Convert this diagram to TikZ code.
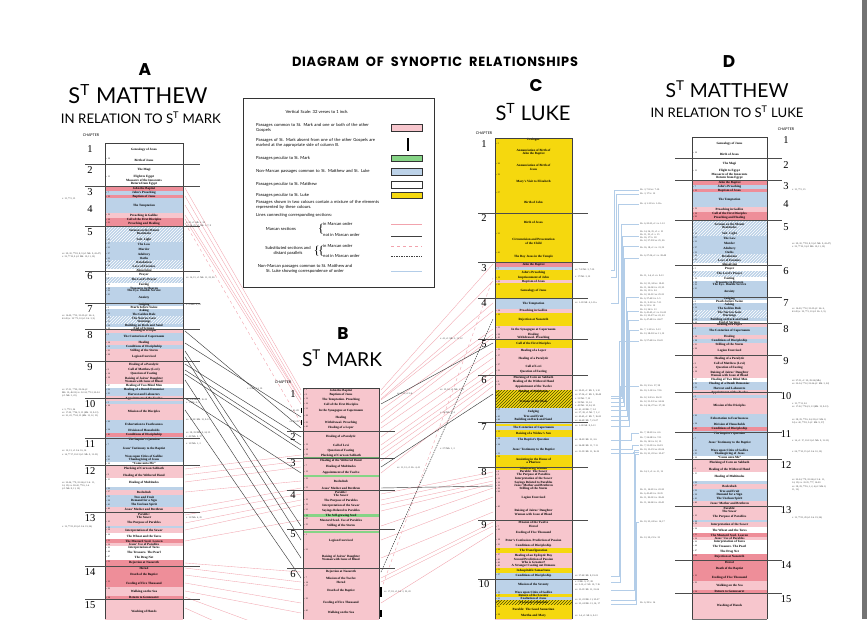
\documentclass[tikz,border=0pt]{standalone}
\usepackage{fontspec}
\setmainfont{Liberation Serif}
\newfontfamily\hdfont{Lato}
\newfontfamily\ttlfont[LetterSpace=6]{Poppins}
\usetikzlibrary{patterns}
\definecolor{pk}{HTML}{F7C6CD}
\definecolor{rd}{HTML}{EE8E99}
\definecolor{bl}{HTML}{BCD2E8}
\definecolor{yl}{HTML}{F5D80E}
\definecolor{gn}{HTML}{86D486}
\definecolor{pkl}{HTML}{F2A3AD}
\definecolor{bll}{HTML}{B3CDE8}
\tikzset{
 fpk/.style={fill=pk}, frd/.style={fill=rd}, fbl/.style={fill=bl},
 fwh/.style={fill=white}, fyl/.style={fill=yl}, fgn/.style={fill=gn},
 fhb/.style={fill=bl, postaction={pattern=north east lines, pattern color=white}},
 fhy/.style={fill=yl, postaction={pattern=north east lines, pattern color=olive!60!black}},
 segline/.style={draw=black!55, line width=0.3pt},
 colframe/.style={draw=black!75, line width=0.7pt},
 seglab/.style={font=\fontsize{3.2}{3.4}\selectfont\bfseries, align=center, inner sep=0pt, text=black},
 vlab/.style={font=\fontsize{2.2}{2.4}\selectfont, anchor=north west, inner sep=0.4pt},
 chapline/.style={draw=black!70, line width=0.45pt},
 chapnum/.style={font=\fontsize{10.5}{11}\selectfont},
 chaplab/.style={font=\hdfont\fontsize{3.6}{4}\selectfont},
 note/.style={font=\fontsize{2.4}{2.6}\selectfont, inner sep=0pt, anchor=west, text=black!80},
 pinkln/.style={draw=pkl, line width=0.35pt},
 pinkdash/.style={draw=pkl, line width=0.4pt, dashed},
 blackln/.style={draw=black!75, line width=0.45pt},
 blackdash/.style={draw=black!75, line width=0.5pt, dash pattern=on 1.5pt off 1pt},
 blueln/.style={draw=bll, line width=0.3pt},
 legt/.style={font=\hdfont\fontsize{4.2}{5}\selectfont, inner sep=0pt, align=left, anchor=west},
 swatch/.style={draw=black!80, line width=0.5pt},
 headbig/.style={font=\ttlfont\bfseries\fontsize{17}{17}\selectfont, inner sep=0pt},
}
\newcommand\colsegs[3]{%
  \foreach \ya/\yb/\st/\vv/\lab in #3 {%
    \path[\st] (#1,\ya) rectangle (#2,\yb);
    \draw[segline] (#1,\yb) -- (#2,\yb);
    \node[seglab] at ({(#1+#2)/2},{(\ya+\yb)/2}) {\lab};
    \node[vlab] at (#1,\ya) {\vv};
  }%
}
\def\Alist{143/157/fwh/{}/{Genealogy of Jesus},
157/164/fwh/{v. 18}/{Birth of Jesus},
164/175/fwh/{}/{The Magi},
175/186/fwh/{v. 13}/{Flight to Egypt\\Massacre of the Innocents\\Return from Egypt},
186/191/frd/{}/{John the Baptist},
191/195/fbl/{v. 7}/{John's Preaching},
195/198/frd/{v. 13}/{Baptism of Jesus},
198/213/fbl/{}/{The Temptation},
213/218/fpk/{v. 12}/{Preaching in Galilee},
218/221/frd/{v. 18}/{Call of the First Disciples},
221/226/frd/{v. 23}/{Preaching and Healing},
226/238/fhb/{}/{Sermon on the Mount\\Beatitudes},
238/242/fhb/{v. 13}/{Salt. Light},
242/246/fbl/{v. 17}/{The Law},
246/252/fbl/{v. 21}/{Murder},
252/257/fbl/{v. 27}/{Adultery},
257/260/fbl/{v. 33}/{Oaths},
260/264/fhb/{v. 38}/{Retaliation},
264/269/fhb/{v. 43}/{Love of Enemies},
269/273/fwh/{}/{Almsgiving},
273/277/fwh/{v. 5}/{Prayer},
277/283/fhb/{v. 9}/{The Lord's Prayer},
283/287/fwh/{v. 16}/{Fasting},
287/289/fbl/{v. 19}/{Treasures in Heaven},
289/293/fbl/{v. 22}/{The Eye. Double Service},
293/303/fbl/{v. 25}/{Anxiety},
303/306/fbl/{}/{Judging},
306/309/fwh/{v. 6}/{Pearls before Swine},
309/312/fbl/{v. 7}/{Asking},
312/316/fbl/{v. 12}/{The Golden Rule},
316/320/fhb/{v. 13}/{The Narrow Gate},
320/324/fhb/{v. 15}/{Warnings},
324/327/fbl/{v. 24}/{Building on Rock and Sand},
327/329/fwh/{v. 28}/{End of Sermon},
329/333/fpk/{}/{Healing of a Leper},
333/341/fbl/{v. 5}/{The Centurion of Capernaum},
341/345/fpk/{v. 14}/{Healing},
345/349/fbl/{v. 18}/{Conditions of Discipleship},
349/353/fpk/{v. 23}/{Stilling of the Storm},
353/361/fpk/{v. 28}/{Legion Exorcised},
361/368/fpk/{}/{Healing of a Paralytic},
368/372/fpk/{v. 9}/{Call of Matthew (Levi)},
372/376/fpk/{v. 14}/{Question of Fasting},
376/384/fpk/{v. 18}/{Raising of Jairus' Daughter\\Woman with Issue of Blood},
384/388/fwh/{v. 27}/{Healing of Two Blind Men},
388/392/fbl/{v. 32}/{Healing of a Dumb Demoniac},
392/396/fbl/{v. 35}/{Harvest and Labourers},
396/401/fpk/{}/{Appointment of the Twelve},
401/404/fbl/{v. 5}/{},
404/420/fpk/{v. 16}/{Mission of the Disciples},
420/428/fbl/{v. 26}/{Exhortation to Fearlessness},
428/433/fbl/{v. 34}/{Division of Households},
433/437/frd/{v. 40}/{Conditions of Discipleship},
437/443/fbl/{}/{The Baptist's Question},
443/455/fbl/{v. 7}/{Jesus' Testimony to the Baptist},
455/458/fbl/{v. 20}/{Woes upon Cities of Galilee},
458/462/fbl/{v. 25}/{Thanksgiving of Jesus},
462/465/fwh/{v. 28}/{``Come unto Me''},
465/473/fpk/{}/{Plucking of Corn on Sabbath},
473/478/fpk/{v. 9}/{Healing of the Withered Hand},
478/487/fwh/{v. 15}/{Healing of Multitudes},
487/490/fbl/{v. 22}/{},
490/495/fpk/{v. 27}/{Beelzebub},
495/499/fbl/{v. 33}/{Tree and Fruit},
499/503/fbl/{v. 38}/{Demand for a Sign},
503/507/fbl/{v. 43}/{The Unclean Spirit},
507/512/fpk/{v. 46}/{Jesus' Mother and Brethren},
512/520/fpk/{}/{Parable:\\The Sower},
520/526/fpk/{v. 10}/{The Purpose of Parables},
526/528/fbl/{v. 16}/{},
528/533/fpk/{v. 18}/{Interpretation of the Sower},
533/539/fwh/{v. 24}/{The Wheat and the Tares},
539/543/frd/{v. 31}/{The Mustard Seed. Leaven},
543/546/fpk/{v. 34}/{Jesus' Use of Parables},
546/550/fwh/{v. 36}/{Interpretation of Tares},
550/555/fwh/{v. 44}/{The Treasure. The Pearl},
555/560/fwh/{v. 47}/{The Drag Net},
560/566/frd/{v. 53}/{Rejection at Nazareth},
566/570/frd/{}/{Herod},
570/580/frd/{}/{Death of the Baptist},
580/587/frd/{v. 13}/{Feeding of Five Thousand},
587/596/fpk/{v. 22}/{Walking on the Sea},
596/599/frd/{v. 34}/{Return to Gennesaret},
599/625/fpk/{}/{Washing of Hands}}
\def\Blist{388/393/fpk/{v. 1}/{John the Baptist},
393/397/fpk/{v. 9}/{Baptism of Jesus},
397/402/fpk/{v. 12}/{The Temptation. Preaching},
402/407/fpk/{v. 16}/{Call of the First Disciples},
407/414/fpk/{v. 21}/{In the Synagogue at Capernaum},
414/421/fpk/{v. 29}/{Healing},
421/425/fpk/{v. 35}/{Withdrawal. Preaching},
425/431/fpk/{v. 40}/{Healing of a Leper},
431/443/fpk/{}/{Healing of a Paralytic},
443/448/fpk/{v. 13}/{Call of Levi},
448/453/fpk/{v. 18}/{Question of Fasting},
453/458/fpk/{v. 23}/{Plucking of Corn on Sabbath},
458/464/fpk/{}/{Healing of the Withered Hand},
464/470/fpk/{v. 7}/{Healing of Multitudes},
470/475/fpk/{v. 13}/{Appointment of the Twelve},
475/477/fgn/{}/{},
477/486/fpk/{v. 22}/{Beelzebub},
486/490/fpk/{v. 31}/{Jesus' Mother and Brethren},
490/498/fpk/{}/{Parable:\\The Sower},
498/503/fpk/{v. 10}/{The Purpose of Parables},
503/508/fpk/{v. 13}/{Interpretation of the Sower},
508/514/fpk/{v. 21}/{Sayings Related to Parables},
514/517/fgn/{v. 26}/{The Self-growing Seed},
517/523/fpk/{v. 30}/{Mustard Seed. Use of Parables},
523/529/fpk/{v. 35}/{Stilling of the Storm},
529/531/fpk/{}/{},
531/533/fgn/{}/{},
533/548/fpk/{v. 1}/{Legion Exorcised},
548/568/fpk/{v. 21}/{Raising of Jairus' Daughter\\Woman with Issue of Blood},
568/576/fpk/{}/{Rejection at Nazareth},
576/581/fpk/{v. 7}/{Mission of the Twelve},
581/584/fpk/{v. 14}/{Herod},
584/597/fpk/{v. 17}/{Death of the Baptist},
597/609/fpk/{v. 30}/{Feeding of Five Thousand},
609/617/fpk/{v. 45}/{Walking on the Sea},
617/625/fpk/{}/{}}
\def\Clist{138/142/fyl/{}/{Prologue},
142/162/fyl/{v. 5}/{Annunciation of Birth of\\John the Baptist},
162/173/fyl/{v. 26}/{Annunciation of Birth of\\Jesus},
173/191/fyl/{v. 39}/{Mary's Visit to Elizabeth},
191/213/fyl/{v. 57}/{Birth of John},
213/232/fyl/{}/{Birth of Jesus},
232/251/fyl/{v. 21}/{Circumcision and Presentation\\of the Child},
251/262/fyl/{v. 41}/{The Boy Jesus in the Temple},
262/267/frd/{}/{John the Baptist},
267/270/fbl/{v. 7}/{},
270/276/fyl/{}/{John's Preaching},
276/280/fyl/{v. 18}/{Imprisonment of John},
280/283/fpk/{v. 21}/{Baptism of Jesus},
283/298/fyl/{v. 23}/{Genealogy of Jesus},
298/309/fbl/{}/{The Temptation},
309/313/fpk/{v. 14}/{Preaching in Galilee},
313/326/fyl/{v. 16}/{Rejection at Nazareth},
326/333/fpk/{v. 31}/{In the Synagogue at Capernaum},
333/336/fpk/{v. 38}/{Healing},
336/339/fpk/{v. 42}/{Withdrawal. Preaching},
339/348/fyl/{}/{Call of the First Disciples},
348/354/fpk/{v. 12}/{Healing of a Leper},
354/363/fpk/{v. 17}/{Healing of a Paralytic},
363/369/fpk/{v. 27}/{Call of Levi},
369/375/fpk/{v. 33}/{Question of Fasting},
375/380/fpk/{}/{Plucking of Corn on Sabbath},
380/383/fpk/{v. 6}/{Healing of the Withered Hand},
383/390/fpk/{v. 12}/{Appointment of the Twelve},
390/394/fhy/{v. 17}/{Healing of Multitudes},
394/408/fhy/{v. 20}/{Sermon on the Plain},
408/415/fbl/{v. 37}/{Judging},
415/418/fbl/{v. 43}/{Tree and Fruit},
418/422/fbl/{v. 46}/{Building on Rock and Sand},
422/424/fbl/{}/{},
424/426/fyl/{}/{},
426/430/fbl/{}/{The Centurion of Capernaum},
430/437/fyl/{v. 11}/{Raising of a Widow's Son},
437/443/fbl/{v. 18}/{The Baptist's Question},
443/447/fbl/{v. 24}/{},
447/452/fbl/{}/{Jesus' Testimony to the Baptist},
452/455/fbl/{v. 31}/{},
455/467/fyl/{v. 36}/{Anointing in the House of\\a Pharisee},
467/470/fyl/{}/{Ministering Women},
470/473/fpk/{v. 4}/{Parable: The Sower},
473/477/fpk/{v. 9}/{The Purpose of Parables},
477/481/fpk/{v. 11}/{Interpretation of the Sower},
481/484/fpk/{v. 16}/{Sayings Related to Parables},
484/487/fpk/{v. 19}/{Jesus' Mother and Brethren},
487/490/fpk/{v. 22}/{Stilling of the Storm},
490/505/fpk/{v. 26}/{Legion Exorcised},
505/520/fpk/{v. 40}/{Raising of Jairus' Daughter\\Woman with Issue of Blood},
520/525/fpk/{}/{Mission of the Twelve},
525/528/fpk/{v. 7}/{Herod},
528/538/fpk/{v. 10}/{Feeding of Five Thousand},
538/543/fpk/{v. 18}/{Peter's Confession. Prediction of Passion},
543/548/fpk/{v. 23}/{Conditions of Discipleship},
548/553/fyl/{v. 28}/{The Transfiguration},
553/558/fpk/{v. 37}/{Healing of an Epileptic Boy},
558/561/fpk/{v. 43}/{Second Prediction of Passion},
561/564/fpk/{v. 46}/{Who is Greatest?},
564/568/fpk/{v. 49}/{A Stranger Casting out Demons},
568/573/fyl/{v. 51}/{Inhospitable Samaritans},
573/579/fbl/{v. 57}/{Conditions of Discipleship},
579/591/fbl/{}/{Mission of the Seventy},
591/594/fbl/{v. 13}/{Woes upon Cities of Galilee},
594/597/fyl/{v. 17}/{Return of the Seventy},
597/600/fbl/{v. 21}/{Exaltation of Jesus},
600/605/fhy/{v. 25}/{A Lawyer's Question},
605/613/fyl/{v. 29}/{Parable: The Good Samaritan},
613/619/fyl/{v. 38}/{Martha and Mary},
619/625/fpk/{}/{}}
\begin{document}
\begin{tikzpicture}[x=1pt,y=-1pt]
\useasboundingbox (0,0) rectangle (867,619);
\fill[white] (0,0) rectangle (867,619);
\fill[black!55] (862,0) rectangle (867,619);

% ---------- title ----------
\node[inner sep=0pt] (title) at (435,62) {\resizebox{286pt}{9.5pt}{\ttlfont\bfseries DIAGRAM\ \ OF\ \ SYNOPTIC\ \ RELATIONSHIPS}};

% ---------- headers ----------
\node[headbig] (hA) at (145,70) {A};
\node[inner sep=0pt] (tA) at (138,94) {\resizebox{139pt}{!}{\hdfont S\textsuperscript{T} MATTHEW}};
\node[inner sep=0pt] (sA) at (141,117.5) {\resizebox{160pt}{!}{\hdfont IN RELATION TO S\textsuperscript{T} MARK}};
\node[headbig] (hB) at (343,334) {B};
\node[inner sep=0pt] (tB) at (342,358.5) {\resizebox{80pt}{!}{\hdfont S\textsuperscript{T} MARK}};
\node[headbig] (hC) at (536,86) {C};
\node[inner sep=0pt] (tC) at (533,112) {\resizebox{75pt}{!}{\hdfont S\textsuperscript{T} LUKE}};
\node[headbig] (hD) at (729,62) {D};
\node[inner sep=0pt] (tD) at (727,89.5) {\resizebox{123pt}{!}{\hdfont S\textsuperscript{T} MATTHEW}};
\node[inner sep=0pt] (sD) at (727,112) {\resizebox{153pt}{!}{\hdfont IN RELATION TO S\textsuperscript{T} LUKE}};

% ---------- connectors A -> B ----------
\foreach \a/\b in {188/390,196/395,205/399,215/400,219/404,469/455,475/461,482/467,492/481,509/488,515/494,523/500,530/505,541/520,563/572,568/582,575/590,583/603,591/613,597/640,608/660}
  \draw[pinkln] (185,\a) -- (301,\b);
\draw[pinkdash] (185,223) -- (301,423);
\foreach \a/\b in {331/428,343/417,351/526,357/540,364/437,370/445,374/450,380/558,398/473,410/578}
  \draw[blackln] (185,\a) -- (301,\b);
% ---------- connectors B -> C ----------
\foreach \a/\b in {390/264,395/281,399/303,400/311,410/329,417/334,423/337,428/351,437/358,445/366,450/372,455/377,461/381,473/386,494/472,500/476,505/481,511/484,526/488,540/497,558/512,578/522,582/526,603/533}
  \draw[pinkln] (381,\a) -- (493,\b);
\draw[pinkdash] (381,590) -- (493,278);
\foreach \a/\b in {404/343,467/394,488/486}
  \draw[blackln] (381,\a) -- (493,\b);
\draw[blackdash] (381,572) -- (493,319);
% ---------- connectors C -> D ----------
\foreach \a/\b/\v in {270/190/614,277/194/616,303/204/618,396/224/621,398/236/622,402/246/623,406/258/624,410/297/626,416/311/627,420/320/628,426/330/629,440/433/631,449/445/632,453/452/633,576/341/619,582/386/620,590/450/634,600/454/635,604/522/636}
  \draw[blueln] (611,\a) -- (\v,\a) -- (\v,\b) -- (639,\b);

% ---------- columns ----------
\colsegs{105}{183}{\Alist}
\draw[colframe] (105,619) -- (105,143) -- (183,143) -- (183,619);
\node[inner sep=0pt, minimum width=78pt, minimum height=476pt, anchor=north west] (colA) at (105,143) {};
\begin{scope}[yshift=6pt]
\colsegs{692}{767}{\Alist}
\draw[colframe] (692,625) -- (692,143) -- (767,143) -- (767,625);
\end{scope}
\node[inner sep=0pt, minimum width=75pt, minimum height=482pt, anchor=north west] (colD) at (692,137) {};
\colsegs{303}{379}{\Blist}
\draw[draw=gn!80!black, line width=0.8pt] (303,388.4) -- (379,388.4);
\draw[draw=gn!80!black, line width=0.8pt] (303,457.5) -- (379,457.5);
\draw[colframe] (303,619) -- (303,388) -- (379,388) -- (379,619);
\node[inner sep=0pt, minimum width=76pt, minimum height=231pt, anchor=north west] (colB) at (303,388) {};
\colsegs{495}{572}{\Clist}
\draw[colframe] (495,619) -- (495,138) -- (572,138) -- (572,619);
\node[inner sep=0pt, minimum width=77pt, minimum height=481pt, anchor=north west] (colC) at (495,138) {};

% black bars beside column B
\foreach \a/\b/\x in {408/413/301.5,420/425/301.5,587/597/381,610/617/381}
  \draw[black, line width=1.6pt] (\x,\a) -- (\x,\b);

% ---------- chapter lines and numbers ----------
\node[chaplab] (chA) at (91,135) {CHAPTER};
\foreach \y in {164,186,226,271,303,329,361,398,438,465,512,566,599}
  \draw[chapline] (85,\y) -- (200,\y);
\foreach \n/\y in {1/149,2/170,3/192,4/209,5/232,6/276,7/309,8/335,9/367,10/404,11/444,12/471,13/518,14/572,15/605}
  \node[chapnum] at (90,\y) {\n};
\node[chaplab] (chD) at (786,129) {CHAPTER};
\foreach \y in {158,180,220,265,297,323,355,392,432,459,506,560,593}
  \draw[chapline] (675,\y) -- (782,\y);
\foreach \n/\y in {1/140,2/165,3/186,4/204,5/227,6/271,7/303,8/329,9/361,10/396,11/434,12/465,13/510,14/565,15/599}
  \node[chapnum] at (786,\y) {\n};
\node[chaplab] (chB) at (283,382) {CHAPTER};
\foreach \y in {431,458,490,529,568}
  \draw[chapline] (287,\y) -- (395,\y);
\foreach \n/\y in {1/394,2/437,3/463,4/495,5/534,6/574}
  \node[chapnum] at (293,\y) {\n};
\node[chaplab] (chC) at (484,133) {CHAPTER};
\foreach \y in {213,262,298,339,375,422,467,520,579}
  \draw[chapline] (478,\y) -- (588,\y);
\foreach \n/\y in {1/144,2/218,3/268,4/303,5/344,6/380,7/427,8/472,9/525,10/584}
  \node[chapnum] at (484,\y) {\n};

% ---------- annotations ----------
\foreach \y/\t in {254/{vv. 29, 30, **18, 8, 9 (cf. Mk. 9, 43-47)},257/{v. 32, **19, 9 (cf. Mk. 10, 11, 12)},316/{vv. 16-20, **12, 33-35 (cf. Lk. 6,},319/{43-45) v. 19 **3, 10 (cf. Lk. 3, 9)},390/{vv. 27-31, **20, 29-34 (cf.},393/{Mk. 10, 46-52) vv. 32-34, **12, 22-24},396/{(cf. Mk. 3, 22)},410/{v. 5, **15, 24},413/{vv. 17-22, **24, 9, 13 (Mk. 13, 9-13)},416/{vv. 21, 22, **24, 13 (Mk. 13, 12, 13)},451/{vv. 12, 13, cf. Lk. 16, 16},455/{v. 14, **17, 10-13 (cf. Mk. 9, 11-13)},483/{vv. 22-24, **9, 32-34 (cf. Lk. 11,},486/{14, 15) vv. 38-42, **16, 1-4},489/{(cf. Mk. 8, 11, 12)},527/{v. 12, **25, 29 (cf. Lk. 19, 26)},199/{v. 15, **2, 15}}
  \node[note] at (62,\y) {\t};
\foreach \y/\t in {223/{v. 23, cf. Mk. 1, 39},226/{vv. 24, 25, cf. Mk. 3, 7, 8},278/{vv. 14, 15, cf. Mk. 11, 25, 26},305/{v. 2=Mk. 4, 24},400/{vv. 2-4=Mk. 3, 16-19},403/{v. 1=Mk. 6, 7},420/{vv. 17-22=Mk. 13, 9-13},433/{vv. 38, 39=Mk. 8, 34, 35},437/{v. 40=Mk. 9, 37},444/{v. 10=Mk. 1, 2},518/{v. 12=Mk. 4, 25}}
  \node[note] at (186,\y) {\t};
\foreach \y/\t in {190/{Lk. 3, 7-9=vv. 7-10},194/{Lk. 3, 17=v. 12},204/{Lk. 4, 1-13=vv. 1-11a},224/{Lk. 6, 20-23, cf. vv. 1-12},232/{Lk. 14, 34, 35, cf. v. 13},235/{Lk. 11, 33, cf. v. 15},238/{Lk. 16, 17=v. 18},241/{Lk. 12, 57-59=vv. 25, 26},248/{Lk. 16, 18, cf. vv. 31, 32},256/{Lk. 6, 27-36, cf. vv. 38-48},276/{Lk. 11, 1-4, cf. vv. 9-13},284/{Lk. 12, 33, 34=vv. 19-21},288/{Lk. 11, 34-36=vv. 22, 23},291/{Lk. 16, 13=v. 24},295/{Lk. 12, 22-31=vv. 25-33},299/{Lk. 6, 37-42=vv. 1-5},303/{Lk. 11, 9-13=vv. 7-11},306/{Lk. 6, 31=v. 12},310/{Lk. 13, 24=v. 13},313/{Lk. 6, 43-45, cf. vv. 16-20},316/{Lk. 13, 25-27=vv. 22, 23},320/{Lk. 6, 47-49=vv. 24-27},330/{Lk. 7, 1-10=vv. 5-13},334/{Lk. 13, 28-30=vv. 11, 12},341/{Lk. 9, 57-60=vv. 19-22},386/{Lk. 10, 2=vv. 37, 38},391/{Lk. 10, 3-12=vv. 7-16},398/{Lk. 12, 2-9=vv. 26-33},402/{Lk. 12, 51-53=vv. 34-36},406/{Lk. 14, 26, 27=vv. 37, 38},433/{Lk. 7, 18-23=vv. 2-6},438/{Lk. 7, 24-28=vv. 7-11},442/{Lk. 16, 16=vv. 12, 13},446/{Lk. 7, 31-35=vv. 16-19},450/{Lk. 10, 13-15=vv. 20-24},454/{Lk. 10, 21, 22=vv. 25-27},472/{Lk. 14, 5, cf. vv. 11, 12},490/{Lk. 11, 14-23=vv. 22-30},494/{Lk. 6, 43-45=vv. 33-35},498/{Lk. 11, 29-32=vv. 38-42},503/{Lk. 11, 24-26=vv. 43-45},522/{Lk. 10, 23, 24=vv. 16, 17},538/{Lk. 13, 20, 21=v. 33},603/{Lk. 6, 39=v. 14}}
  \node[note] at (640,\y) {\t};
\foreach \y/\t in {190/{v. 15, **2, 15},244/{vv. 29, 30, **18, 8, 9 (cf. Mk. 9, 43-47)},247/{v. 32, **19, 9 (cf. Mk. 10, 11, 12)},309/{vv. 16-20, **12, 33-35 (cf. Lk. 6,},312/{43-45) v. 19, **3, 10 (cf. Lk. 3, 9)},381/{vv. 27-31, cf. 20, 29-34 (Mk.)},384/{vv. 32-34, **12, 22-24 (cf. Mk. 3, 22)},404/{v. 15, **11, 24},407/{vv. 17-22, **24, 9, 13 (Mk. 13, 9-13)},420/{vv. 38, 39, **16, 24, 25 (cf. Mk. 8,},423/{34) v. 40, **18, 5 (cf. Mk. 9, 37)},441/{v. 14, cf. 17, 10-13 (cf. Mk. 9, 11-13)},452/{v. 24, **10, 15 (cf. Lk. 10, 12)},480/{vv. 22-24, **9, 32-34 (cf. Lk. 11,},483/{14, 15) vv. 33-35, **7, 16-20},487/{vv. 38, 39, **16, 1, 2, 4 (cf. Mk. 8,},490/{11, 12)},518/{v. 12, **25, 29 (cf. Lk. 19, 26)}}
  \node[note] at (792,\y) {\t};
\foreach \y/\t in {270/{vv. 7-9=Mt. 3, 7-10},277/{v. 17=Mt. 3, 12},303/{vv. 1-13=Mt. 4, 1-11a},391/{vv. 20-23, cf. Mt. 5, 1-12},395/{vv. 27-36, cf. Mt. 5, 38-48},399/{v. 31=Mt. 7, 12},403/{v. 39=Mt. 15, 14},406/{v. 40=Mt. 10, 24, 25},410/{vv. 41, 42=Mt. 7, 3-5},413/{vv. 37, 38, cf. Mt. 7, 1, 2},417/{vv. 43-45, cf. Mt. 7, 16-20},421/{vv. 46-49=Mt. 7, 21-27},426/{vv. 1-10=Mt. 8, 5-13},440/{vv. 18-23=Mt. 11, 2-6},446/{vv. 24-28=Mt. 11, 7-11},452/{vv. 31-35=Mt. 11, 16-19},576/{vv. 57-62=Mt. 8, 19-22},582/{v. 2=Mt. 9, 37, 38},585/{vv. 3-12, cf. Mt. 10, 7-16},590/{vv. 13-15=Mt. 11, 21-24},600/{vv. 21, 22=Mt. 11, 25-27},604/{vv. 23, 24=Mt. 13, 16, 17},616/{vv. 1-4, cf. Mt. 6, 9-13}}
  \node[note] at (575,\y) {\t};
\node[note, anchor=east] at (299,411) {vv. 21-28};
\node[note, anchor=east] at (299,422) {vv. 35-39};
\node[note] at (247,389) {v. 2=Mt. 11, 10};
\node[note] at (384,592) {vv. 17, 18, cf. Lk. 3, 19, 20};
\node[note] at (397,468) {vv. 11, 12, cf. Lk. 4, 41};
\node[note] at (397,394) {vv. 2-13, cf. Lk.};
\node[note] at (440,339) {v. 41, cf. Mk. 3, 11, 12};
\node[note] at (440,390) {vv. 15, 16, cf. Mk. 1, 28};
\node[note] at (440,413) {v. 24=Mk. 6, 4};
\node[note] at (440,449) {v. 27=Mk. 1, 2};

% ---------- legend ----------
\draw[black!80, line width=0.6pt, fill=white] (243,98) rectangle (434,287);
\node[legt, anchor=center] (lg0) at (317,112) {Vertical Scale: 32 verses to 1 inch.};
\node[legt, text width=122pt] (lg1) at (256,127.5) {Passages common to St. Mark and one or both of the other Gospels};
\node[legt, text width=122pt] (lg2) at (256,143) {Passages of St. Mark absent from one of the other Gospels are marked at the appropriate side of column B.};
\node[legt] (lg3) at (256,158) {Passages peculiar to St. Mark};
\node[legt, text width=122pt] (lg4) at (256,171.5) {Non-Marcan passages common to St. Matthew and St. Luke};
\node[legt] (lg5) at (256,184.5) {Passages peculiar to St. Matthew};
\node[legt] (lg6) at (256,195) {Passages peculiar to St. Luke};
\node[legt, text width=125pt] (lg7) at (256,205) {Passages shown in two colours contain a mixture of the elements represented by these colours.};
\node[legt] (lg8) at (256,215) {Lines connecting corresponding sections:};
\draw[swatch, fill=pk] (391,124) rectangle (422,131);
\draw[black, line width=2pt] (408,138) -- (408,151);
\draw[swatch, fill=gn] (391,155) rectangle (422,161);
\draw[swatch, fill=bl] (391,168) rectangle (422,175);
\draw[swatch, fill=white] (391,181) rectangle (422,188);
\draw[swatch, fill=yl] (391,192) rectangle (422,198);
\node[legt, anchor=center] (lg9) at (281,229) {Marcan sections};
\node[inner sep=0pt, font=\fontsize{12}{12}\selectfont] at (321,229.5) {\{};
\node[legt] at (323,224) {in Marcan order};
\node[legt] at (323,234.5) {not in Marcan order};
\node[legt, anchor=center, align=center] (lg10) at (288,251) {Substituted sections and\\distant parallels};
\node[inner sep=0pt, font=\fontsize{12}{12}\selectfont] at (319,251) {\{\kern-1.5pt\{};
\node[legt] at (323,246) {in Marcan order};
\node[legt] at (323,256) {not in Marcan order};
\node[legt, anchor=center, align=center] (lg11) at (305,268.5) {Non-Marcan passages common to St. Matthew and\\St. Luke showing correspondence of order};
\draw[pinkln, line width=0.5pt] (391,224) -- (422,224);
\draw[blackln] (391,236) -- (422,236);
\draw[pinkdash] (391,246) -- (422,246);
\draw[blackdash] (391,256) -- (422,256);
\draw[blueln] (391,271) -- (422,271);
\end{tikzpicture}
\end{document}
